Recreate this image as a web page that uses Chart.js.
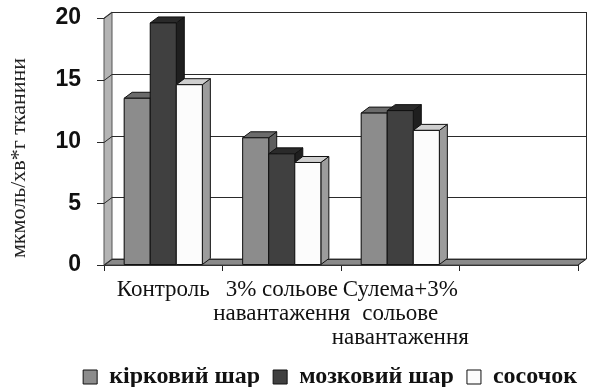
<!DOCTYPE html>
<html>
<head>
<meta charset="utf-8">
<script src="https://cdn.jsdelivr.net/npm/chart.js@4.4.1/dist/chart.umd.min.js"></script>
<style>
    html, body { margin: 0; padding: 0; background: #fff; overflow: hidden; }
    #wrap { width: 590px; height: 387px; }
</style>
</head>
<body>
<div id="wrap"><canvas id="chartKidney"></canvas></div>
<script>
    var categories = ['Контроль', ['3% сольове', 'навантаження'], ['Сулема+3%', 'сольове', 'навантаження'], ''];
    var seriesNames = ['кірковий шар', 'мозковий шар', 'сосочок'];
    var cortex = [13.5, 10.3, 12.3, null];
    var medulla = [19.6, 9.0, 12.5, null];
    var papilla = [14.6, 8.3, 10.9, null];
    var yTitle = 'мкмоль/хв*г тканини';
    var yMin = 0;
    var yMax = 20;
    var yStep = 5;

    // front, top, side colours for each series
    var faceColors = [
        { front: '#8c8c8c', top: '#6b6b6b', side: '#5e5e5e' },
        { front: '#404040', top: '#2a2a2a', side: '#1f1f1f' },
        { front: '#fcfcfc', top: '#cfcfcf', side: '#9c9c9c' }
    ];
    var depthX = 8;
    var depthY = 6;

    function poly(ctx, pts, fill, stroke) {
        ctx.beginPath();
        ctx.moveTo(pts[0][0], pts[0][1]);
        for (var i = 1; i < pts.length; i++) {
            ctx.lineTo(pts[i][0], pts[i][1]);
        }
        ctx.closePath();
        if (fill) {
            ctx.fillStyle = fill;
            ctx.fill();
        }
        if (stroke) {
            ctx.strokeStyle = stroke;
            ctx.lineWidth = 1;
            ctx.stroke();
        }
    }

    var wallsPlugin = {
        id: 'walls',
        beforeDatasetsDraw: function (chart) {
            var ctx = chart.ctx;
            var area = chart.chartArea;
            var yScale = chart.scales.y;
            var l = area.left, r = area.right, t = area.top, b = area.bottom;
            ctx.save();
            // left wall
            poly(ctx, [[l, b], [l, t], [l + depthX, t - depthY], [l + depthX, b - depthY]], '#b4b4b4', '#555');
            // floor
            poly(ctx, [[l, b], [l + depthX, b - depthY], [r + depthX, b - depthY], [r, b]], '#8a8a8a', '#444');
            // back wall grid lines and short y ticks
            ctx.strokeStyle = '#2a2a2a';
            ctx.lineWidth = 1;
            yScale.ticks.forEach(function (tick) {
                var yy = Math.round(yScale.getPixelForValue(tick.value)) + 0.5;
                ctx.beginPath();
                ctx.moveTo(l - 7, yy);
                ctx.lineTo(l, yy);
                ctx.lineTo(l + depthX, yy - depthY);
                ctx.lineTo(r + depthX, yy - depthY);
                ctx.stroke();
            });
            // right edge of back wall
            ctx.beginPath();
            ctx.moveTo(r + depthX + 0.5, t - depthY);
            ctx.lineTo(r + depthX + 0.5, b - depthY);
            ctx.lineTo(r, b);
            ctx.stroke();
            ctx.restore();
        },
        afterDatasetsDraw: function (chart) {
            var ctx = chart.ctx;
            ctx.save();
            chart.data.datasets.forEach(function (ds, di) {
                var meta = chart.getDatasetMeta(di);
                var c = faceColors[di];
                meta.data.forEach(function (bar, i) {
                    if (ds.data[i] === null || ds.data[i] === undefined) {
                        return;
                    }
                    var p = bar.getProps(['x', 'y', 'base', 'width'], true);
                    var x0 = p.x - p.width / 2;
                    var x1 = p.x + p.width / 2;
                    var top = p.y;
                    var base = p.base;
                    poly(ctx, [[x1, base], [x1, top], [x1 + depthX, top - depthY], [x1 + depthX, base - depthY]], c.side, '#111');
                    poly(ctx, [[x0, top], [x0 + depthX, top - depthY], [x1 + depthX, top - depthY], [x1, top]], c.top, '#111');
                    poly(ctx, [[x0, base], [x0, top], [x1, top], [x1, base]], c.front, '#111');
                });
            });
            ctx.restore();
        },
        afterDraw: function (chart) {
            var ctx = chart.ctx;
            ctx.save();
            ctx.translate(19, 158);
            ctx.rotate(-Math.PI / 2);
            ctx.font = '22px "Liberation Serif"';
            ctx.fillStyle = '#222';
            ctx.textAlign = 'center';
            ctx.textBaseline = 'middle';
            ctx.fillText(yTitle, 0, 0);
            ctx.restore();
        }
    };

    var chartKidney = document.getElementById('chartKidney');

    var kidneyData = {
        labels: categories,
        datasets: [
            { label: seriesNames[0], data: cortex, backgroundColor: faceColors[0].front },
            { label: seriesNames[1], data: medulla, backgroundColor: faceColors[1].front },
            { label: seriesNames[2], data: papilla, backgroundColor: faceColors[2].front }
        ]
    };

    var chartOptions = {
        responsive: true,
        maintainAspectRatio: false,
        animation: false,
        layout: { padding: { top: 18, left: 0, right: 0, bottom: -12 } },
        datasets: {
            bar: {
                categoryPercentage: 0.66,
                barPercentage: 1.0,
                borderColor: '#111',
                borderWidth: 1
            }
        },
        plugins: {
            tooltip: { enabled: false },
            legend: {
                display: true,
                position: 'bottom',
                align: 'end',
                labels: {
                    color: '#111',
                    font: { family: 'Liberation Serif', size: 24, weight: 'bold' },
                    boxWidth: 14,
                    boxHeight: 14,
                    padding: 13
                }
            }
        },
        scales: {
            x: {
                offset: true,
                grid: {
                    display: true,
                    offset: true,
                    drawOnChartArea: false,
                    drawTicks: true,
                    tickLength: 6,
                    color: '#222'
                },
                border: { display: true, color: '#222', width: 1 },
                ticks: {
                    color: '#111',
                    font: { family: 'Liberation Serif', size: 23, lineHeight: 1.05 },
                    maxRotation: 0,
                    minRotation: 0,
                    autoSkip: false,
                    padding: 7
                },
                afterFit: function (scale) { scale.height = 87; }
            },
            y: {
                min: yMin,
                max: yMax,
                grid: {
                    display: true,
                    drawOnChartArea: false,
                    drawTicks: true,
                    tickLength: 19,
                    tickColor: 'rgba(0,0,0,0)'
                },
                border: { display: true, color: '#555', width: 1 },
                ticks: {
                    stepSize: yStep,
                    color: '#111',
                    font: { family: 'Liberation Sans', size: 23, weight: 'bold' },
                    padding: 4
                },
                afterFit: function (scale) { scale.width = 104; }
            },
            yRight: {
                position: 'right',
                display: true,
                grid: { display: false },
                border: { display: false },
                ticks: { display: false },
                afterFit: function (scale) { scale.width = 12; }
            }
        }
    };

    var kidneyChart = new Chart(chartKidney, {
        type: 'bar',
        data: kidneyData,
        options: chartOptions,
        plugins: [wallsPlugin]
    });
</script>
</body>
</html>
